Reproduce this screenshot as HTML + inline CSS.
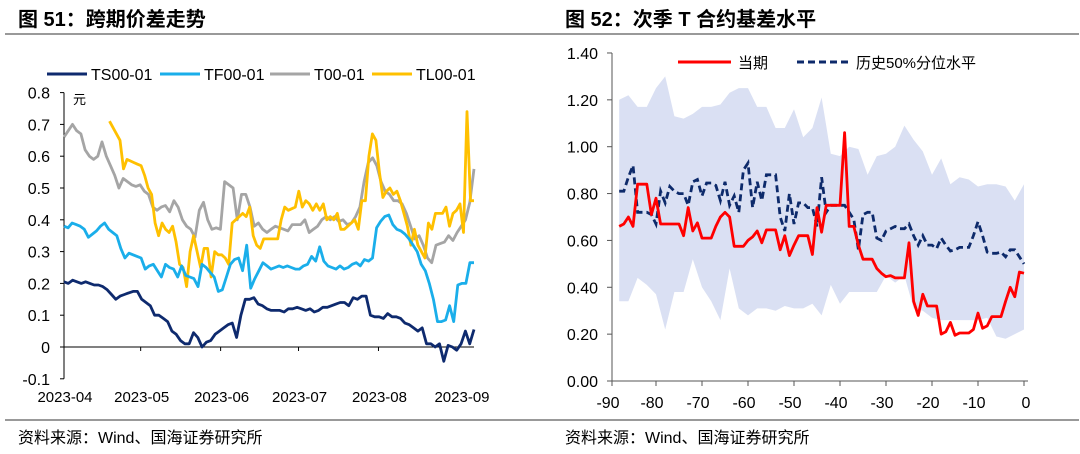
<!DOCTYPE html>
<html><head><meta charset="utf-8">
<style>
html,body{margin:0;padding:0;background:#fff;}
body{width:1080px;height:454px;overflow:hidden;}
svg{display:block;font-family:"Liberation Sans","Noto Sans CJK SC",sans-serif;}
</style></head>
<body>
<svg id="s" width="1080" height="454" viewBox="0 0 1080 454">
  <g>
    <text x="18" y="26" font-size="20" font-weight="bold" fill="#000">图 51：跨期价差走势</text>
    <line x1="5" y1="34" x2="540" y2="34" stroke="#333" stroke-width="1"/>
    <line x1="5" y1="420" x2="540" y2="420" stroke="#333" stroke-width="1"/>
    <text x="18" y="443" font-size="16" fill="#000">资料来源：Wind、国海证券研究所</text>
  </g>
  <g>
    <text x="565" y="26" font-size="20" font-weight="bold" fill="#000">图 52：次季 T 合约基差水平</text>
    <line x1="540" y1="34" x2="1079" y2="34" stroke="#333" stroke-width="1"/>
    <line x1="540" y1="420" x2="1079" y2="420" stroke="#333" stroke-width="1"/>
    <text x="565" y="443" font-size="16" fill="#000">资料来源：Wind、国海证券研究所</text>
  </g>
  <g id="left"></g>
  <g id="right"></g>
</svg>
<script>
// ---- Left chart data ----
const monthLabels = ["2023-04","2023-05","2023-06","2023-07","2023-08","2023-09"];
const monthTickIdx = [0, 0.187, 0.382, 0.572, 0.767, 1.0];
const leftYTicks = [0.8,0.7,0.6,0.5,0.4,0.3,0.2,0.1,0,-0.1];
const leftYLabels = ["0.8","0.7","0.6","0.5","0.4","0.3","0.2","0.1","0","-0.1"];
const seriesNames = ["TS00-01","TF00-01","T00-01","TL00-01"];
const tlStart = 0.111;
const tsValues = [0.205,0.20,0.21,0.205,0.20,0.205,0.20,0.195,0.195,0.19,0.18,0.165,0.15,0.16,0.165,0.17,0.175,0.175,0.15,0.14,0.13,0.10,0.10,0.09,0.08,0.05,0.04,0.02,0.01,0.01,0.045,0.03,0.0,0.015,0.02,0.04,0.05,0.06,0.07,0.075,0.03,0.10,0.15,0.15,0.155,0.135,0.13,0.12,0.115,0.115,0.115,0.11,0.12,0.12,0.125,0.12,0.115,0.12,0.11,0.115,0.125,0.125,0.13,0.135,0.14,0.14,0.13,0.155,0.15,0.16,0.16,0.10,0.095,0.095,0.09,0.105,0.095,0.095,0.09,0.075,0.07,0.06,0.05,0.06,0.01,0.01,0.0,0.01,-0.045,0.005,0.0,-0.01,0.01,0.05,0.01,0.055];
const tfValues = [0.38,0.375,0.39,0.385,0.38,0.37,0.345,0.355,0.365,0.38,0.39,0.37,0.36,0.35,0.31,0.28,0.295,0.29,0.285,0.28,0.245,0.255,0.26,0.24,0.22,0.26,0.25,0.245,0.22,0.255,0.225,0.22,0.215,0.19,0.26,0.25,0.235,0.22,0.175,0.18,0.22,0.26,0.275,0.28,0.24,0.32,0.185,0.215,0.24,0.265,0.255,0.245,0.25,0.255,0.25,0.255,0.25,0.245,0.245,0.255,0.26,0.285,0.27,0.315,0.27,0.255,0.25,0.245,0.255,0.245,0.25,0.26,0.265,0.255,0.275,0.27,0.28,0.375,0.395,0.41,0.415,0.385,0.37,0.365,0.355,0.34,0.32,0.3,0.26,0.24,0.2,0.15,0.08,0.08,0.085,0.13,0.08,0.195,0.2,0.2,0.265,0.265];
const tValues = [0.66,0.68,0.70,0.68,0.67,0.62,0.60,0.59,0.60,0.645,0.6,0.57,0.54,0.50,0.53,0.52,0.51,0.505,0.51,0.49,0.48,0.44,0.43,0.44,0.445,0.425,0.46,0.44,0.40,0.38,0.37,0.345,0.43,0.455,0.40,0.37,0.375,0.37,0.52,0.51,0.5,0.4,0.48,0.48,0.44,0.38,0.39,0.37,0.36,0.37,0.38,0.375,0.37,0.365,0.385,0.385,0.385,0.4,0.36,0.37,0.38,0.40,0.41,0.40,0.41,0.395,0.40,0.385,0.39,0.41,0.44,0.52,0.58,0.595,0.57,0.52,0.49,0.48,0.46,0.46,0.45,0.42,0.38,0.34,0.35,0.32,0.28,0.265,0.32,0.325,0.33,0.35,0.335,0.36,0.38,0.40,0.455,0.56];
const tlValues = [0.71,0.69,0.67,0.65,0.56,0.59,0.585,0.58,0.575,0.57,0.54,0.50,0.48,0.39,0.35,0.39,0.37,0.36,0.38,0.33,0.26,0.25,0.19,0.30,0.35,0.30,0.25,0.31,0.31,0.22,0.30,0.29,0.29,0.28,0.26,0.39,0.40,0.41,0.42,0.41,0.44,0.35,0.32,0.31,0.34,0.34,0.34,0.34,0.34,0.40,0.44,0.43,0.435,0.44,0.49,0.44,0.46,0.45,0.43,0.45,0.43,0.45,0.40,0.41,0.40,0.42,0.37,0.37,0.38,0.39,0.40,0.37,0.46,0.46,0.60,0.67,0.65,0.55,0.47,0.49,0.50,0.48,0.49,0.46,0.42,0.38,0.32,0.37,0.32,0.30,0.28,0.39,0.37,0.42,0.42,0.42,0.44,0.38,0.42,0.43,0.45,0.36,0.74,0.46,0.46];

// ---- Right chart data ----
const rightXTicks = [-90,-80,-70,-60,-50,-40,-30,-20,-10,0];
const rightYTicks = [0,0.2,0.4,0.6,0.8,1.0,1.2,1.4];
const rightYLabels = ["0.00","0.20","0.40","0.60","0.80","1.00","1.20","1.40"];
const dayStart = -88;
const currentBasis = [0.66,0.67,0.70,0.66,0.84,0.84,0.84,0.71,0.78,0.67,0.67,0.67,0.67,0.67,0.62,0.74,0.64,0.675,0.61,0.61,0.61,0.66,0.70,0.72,0.70,0.575,0.575,0.575,0.60,0.615,0.64,0.59,0.645,0.645,0.645,0.56,0.62,0.535,0.58,0.62,0.62,0.62,0.54,0.74,0.635,0.75,0.75,0.75,0.75,1.06,0.66,0.66,0.58,0.52,0.52,0.52,0.48,0.46,0.445,0.45,0.44,0.44,0.44,0.59,0.34,0.28,0.37,0.32,0.32,0.32,0.20,0.21,0.25,0.195,0.205,0.205,0.205,0.22,0.29,0.225,0.235,0.275,0.275,0.275,0.34,0.40,0.36,0.465,0.46];
const medianBasis = [0.81,0.81,0.87,0.92,0.72,0.72,0.72,0.71,0.67,0.81,0.76,0.83,0.81,0.80,0.80,0.75,0.85,0.86,0.79,0.845,0.845,0.835,0.77,0.85,0.75,0.79,0.72,0.90,0.93,0.74,0.85,0.77,0.88,0.88,0.88,0.70,0.64,0.80,0.67,0.76,0.76,0.74,0.74,0.66,0.87,0.72,0.75,0.75,0.75,0.75,0.72,0.69,0.56,0.71,0.72,0.72,0.61,0.60,0.64,0.65,0.66,0.65,0.65,0.67,0.62,0.58,0.62,0.58,0.58,0.565,0.61,0.58,0.555,0.56,0.57,0.57,0.57,0.62,0.68,0.62,0.55,0.545,0.545,0.55,0.53,0.56,0.56,0.53,0.50];
const bandStep = 2;
const bandUpper = [1.20,1.22,1.17,1.17,1.25,1.30,1.13,1.12,1.14,1.17,1.17,1.18,1.23,1.25,1.25,1.17,1.17,1.08,1.08,1.16,1.04,1.08,1.21,0.97,0.96,1.00,0.99,0.88,0.96,0.97,1.00,1.09,1.03,0.98,0.88,0.95,0.84,0.87,0.86,0.83,0.84,0.84,0.83,0.77,0.84];
const bandLower = [0.34,0.34,0.44,0.41,0.37,0.22,0.38,0.38,0.52,0.40,0.34,0.26,0.48,0.31,0.28,0.31,0.31,0.30,0.32,0.31,0.31,0.33,0.28,0.41,0.33,0.38,0.38,0.38,0.38,0.45,0.42,0.45,0.31,0.30,0.27,0.26,0.26,0.26,0.26,0.26,0.27,0.19,0.18,0.20,0.22];

const NS = "http://www.w3.org/2000/svg";
function mk(parent, tag, attrs, text){
  const e = document.createElementNS(NS, tag);
  for (const k in attrs) e.setAttribute(k, attrs[k]);
  if (text !== undefined) e.textContent = text;
  parent.appendChild(e);
  return e;
}

// ===== LEFT =====
(function(){
  const g = document.getElementById('left');
  const X0 = 64, X1 = 474, Y0 = 347, perUnit = 318;
  const xf = t => X0 + t*(X1-X0);
  const yf = v => Y0 - v*perUnit;
  let ax = mk(g,'line',{x1:X0,y1:yf(0.8),x2:X0,y2:yf(-0.1),stroke:'#000','stroke-width':1});
   
  let zx = mk(g,'line',{x1:X0,y1:yf(0),x2:X1,y2:yf(0),stroke:'#000','stroke-width':1});
   
  leftYTicks.forEach((v,i)=>{
    const t = mk(g,'line',{x1:X0-4,y1:yf(v),x2:X0,y2:yf(v),stroke:'#000'});
     
    const l = mk(g,'text',{x:X0-14,y:yf(v)+6,'font-size':16,'text-anchor':'end',fill:'#000'},leftYLabels[i]);
     
  });
  const unit = mk(g,'text',{x:73,y:104,'font-size':13,fill:'#000'},'元');
   
  monthLabels.forEach((m,i)=>{
    const x = xf(monthTickIdx[i]);
    if(i>0 && i<monthLabels.length-1){
      const t = mk(g,'line',{x1:x,y1:yf(0),x2:x,y2:yf(0)+4,stroke:'#000'});
       
    }
    const lx = i===monthLabels.length-1 ? x-12 : x+1;
    const l = mk(g,'text',{x:lx,y:402,'font-size':15,'text-anchor':'middle',fill:'#000'},m);
     
  });
  const series = [
    {vals:tsValues,start:0,color:'#0e2a6e',name:'line-ts00-01'},
    {vals:tfValues,start:0,color:'#1aaeea',name:'line-tf00-01'},
    {vals:tValues,start:0,color:'#a5a5a5',name:'line-t00-01'},
    {vals:tlValues,start:tlStart,color:'#ffc000',name:'line-tl00-01'}
  ];
  const drawOrder = [2,3,1,0];
  drawOrder.forEach(si=>{
    const s = series[si];
    const n = s.vals.length;
    const pts = s.vals.map((v,i)=>{
      const t = s.start + (1-s.start)*i/(n-1);
      return xf(t).toFixed(1)+','+yf(v).toFixed(1);
    }).join(' ');
    const p = mk(g,'polyline',{points:pts,fill:'none',stroke:s.color,'stroke-width':2.8,'stroke-linejoin':'round'});
     
  });
  const lg = mk(g,'g',{});
   
  const lx = [47,160,270,372];
  series.forEach((s,i)=>{
    const ln = mk(lg,'line',{x1:lx[i],y1:74,x2:lx[i]+40,y2:74,stroke:s.color,'stroke-width':3});
     
    const tx = mk(lg,'text',{x:lx[i]+44,y:80,'font-size':16,fill:'#000'},seriesNames[i]);
     
  });
})();

// ===== RIGHT =====
(function(){
  const g = document.getElementById('right');
  const X0 = 612, perDay = 4.6, xZero = 1024, Y0 = 381, perUnit = 234.3;
  const xf = d => xZero + d*perDay;
  const yf = v => Y0 - v*perUnit;
  const up = bandUpper.map((v,i)=>xf(dayStart+i*bandStep).toFixed(1)+','+yf(v).toFixed(1));
  const lo = bandLower.map((v,i)=>xf(dayStart+i*bandStep).toFixed(1)+','+yf(v).toFixed(1)).reverse();
  const band = mk(g,'polygon',{points:up.concat(lo).join(' '),fill:'#dae0f3',stroke:'none'});
   
  const ya = mk(g,'line',{x1:X0,y1:yf(1.4),x2:X0,y2:yf(0),stroke:'#555'});
   
  const xa = mk(g,'line',{x1:X0,y1:yf(0),x2:1028,y2:yf(0),stroke:'#555'});
   
  rightYTicks.forEach((v,i)=>{
    const t = mk(g,'line',{x1:X0-5,y1:yf(v),x2:X0,y2:yf(v),stroke:'#555'});
     
    const l = mk(g,'text',{x:X0-14,y:yf(v)+6,'font-size':16,'text-anchor':'end',fill:'#000'},rightYLabels[i]);
     
  });
  rightXTicks.forEach(d=>{
    const x = d===-90 ? X0 : xf(d);
    const t = mk(g,'line',{x1:x,y1:yf(0),x2:x,y2:yf(0)+5,stroke:'#555'});
     
    const l = mk(g,'text',{x:x+(d===0?2:-4),y:408,'font-size':16,'text-anchor':'middle',fill:'#000'},String(d));
     
  });
  const mpts = medianBasis.map((v,i)=>xf(dayStart+i).toFixed(1)+','+yf(v).toFixed(1)).join(' ');
  const ml = mk(g,'polyline',{points:mpts,fill:'none',stroke:'#0d2a6b','stroke-width':2.8,'stroke-dasharray':'7,4'});
   
  const cpts = currentBasis.map((v,i)=>xf(dayStart+i).toFixed(1)+','+yf(v).toFixed(1)).join(' ');
  const cl = mk(g,'polyline',{points:cpts,fill:'none',stroke:'#ff0000','stroke-width':2.8,'stroke-linejoin':'round'});
   
  const lg = mk(g,'g',{});
   
  const s1 = mk(lg,'line',{x1:678,y1:62,x2:731,y2:62,stroke:'#ff0000','stroke-width':3});
   
  const t1 = mk(lg,'text',{x:738,y:68,'font-size':15,fill:'#000'},'当期');
   
  const s2 = mk(lg,'line',{x1:797,y1:62,x2:850,y2:62,stroke:'#0d2a6b','stroke-width':3,'stroke-dasharray':'7,4'});
   
  const t2 = mk(lg,'text',{x:856,y:68,'font-size':15,fill:'#000'},'历史50%分位水平');
   
})();
</script>
</body></html>
